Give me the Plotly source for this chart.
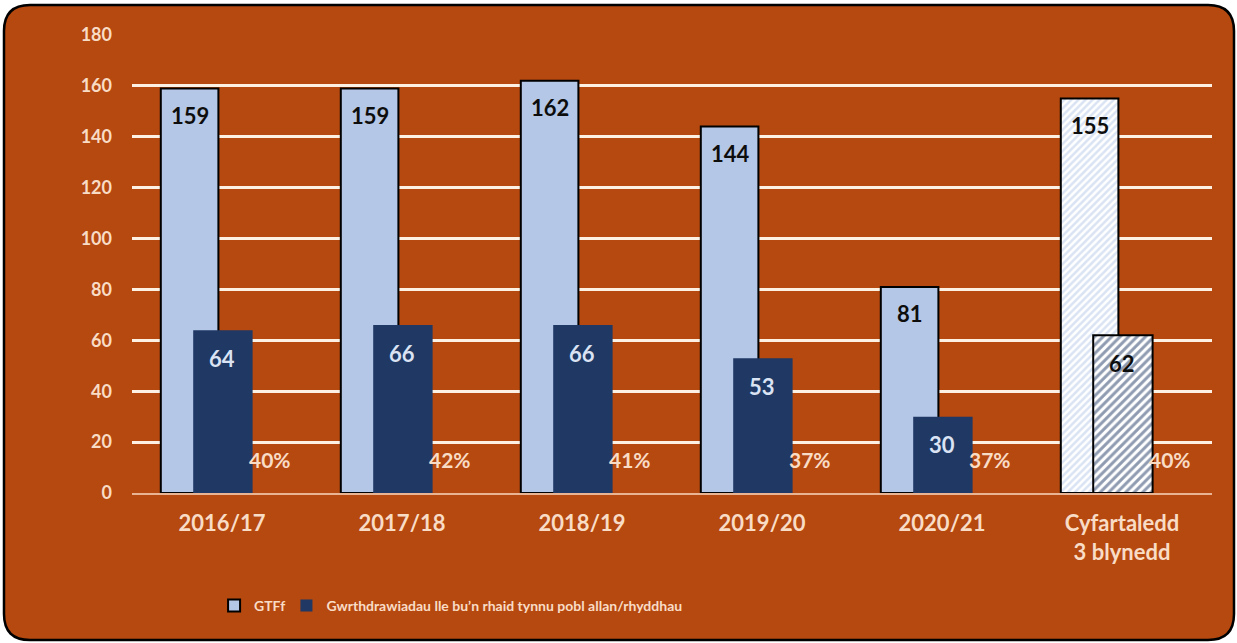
import plotly.graph_objects as go

# data
categories = ["2016/17", "2017/18", "2018/19", "2019/20", "2020/21", "Cyfartaledd<br>3 blynedd"]
gtff = [159, 159, 162, 144, 81, 155]
evictions = [64, 66, 66, 53, 30, 62]
pct_labels = ["40%", "42%", "41%", "37%", "37%", "40%"]
y_ticks = [0, 20, 40, 60, 80, 100, 120, 140, 160, 180]

W, H = 1237, 643
M = dict(l=132, r=25, t=35, b=150)
PLOT_W = W - M["l"] - M["r"]
PLOT_H = H - M["t"] - M["b"]

BG = "#B5490F"
LIGHT = "#B4C7E7"
NAVY = "#1F3864"
PEACH = "#F9DCC6"
GRID = "#FDF1E4"
FONT = "Lato"

is_avg = [c.startswith("Cyfartaledd") for c in categories]

fig = go.Figure()

fig.add_trace(go.Bar(
    x=categories, y=gtff, name="GTFf",
    width=0.32, offset=-0.34,
    marker=dict(
        color=LIGHT,
        line=dict(color="black", width=2),
        pattern=dict(shape=["/" if a else "" for a in is_avg],
                     fgcolor=LIGHT, bgcolor="white", size=5, solidity=0.5),
    ),
    legend="legend",
    hoverinfo="x+y",
))

fig.add_trace(go.Bar(
    x=categories, y=evictions,
    name="Gwrthdrawiadau lle bu\u2019n rhaid tynnu pobl allan/rhyddhau",
    width=0.33, offset=-0.16,
    marker=dict(
        color=NAVY,
        line=dict(color="black", width=[2 if a else 0 for a in is_avg]),
        pattern=dict(shape=["/" if a else "" for a in is_avg],
                     fgcolor=NAVY, bgcolor="white", size=6, solidity=0.5),
    ),
    legend="legend2",
    hoverinfo="x+y",
))

annotations = []
for cat, g, e, p, a in zip(categories, gtff, evictions, pct_labels, is_avg):
    annotations.append(dict(
        x=cat, y=g, xshift=-32, yshift=-27, yanchor="middle",
        text=str(g), showarrow=False,
        font=dict(family=FONT, size=22, weight="bold", color="#0D0D0D"),
    ))
    annotations.append(dict(
        x=cat, y=e, xshift=0, yshift=-28, yanchor="middle",
        text=str(e), showarrow=False,
        font=dict(family=FONT, size=22, weight="bold",
                  color="#0D0D0D" if a else "#DAE3F3"),
    ))
    annotations.append(dict(
        x=cat, y=0, xshift=48, yshift=34, yanchor="middle",
        text=p, showarrow=False,
        font=dict(family=FONT, size=21, weight="bold", color=PEACH),
    ))


# rounded frame, given in figure pixels and converted to paper coords
def to_paper(px, py):
    return (px - M["l"]) / PLOT_W, (H - M["b"] - py) / PLOT_H


x0, y0, x1, y1, r = 4, 5, 1234, 640, 26
pts = [
    ("M", (x0 + r, y0)), ("L", (x1 - r, y0)), ("Q", (x1, y0), (x1, y0 + r)),
    ("L", (x1, y1 - r)), ("Q", (x1, y1), (x1 - r, y1)),
    ("L", (x0 + r, y1)), ("Q", (x0, y1), (x0, y1 - r)),
    ("L", (x0, y0 + r)), ("Q", (x0, y0), (x0 + r, y0)),
]
path = ""
for cmd, *coords in pts:
    path += cmd + " ".join("%.5f,%.5f" % to_paper(*c) for c in coords) + " "
path += "Z"

legend_style = dict(
    orientation="h", xanchor="left", y=-0.2467, yanchor="middle",
    font=dict(family=FONT, size=14, weight="bold", color=PEACH),
    bgcolor="rgba(0,0,0,0)",
)

fig.update_layout(
    width=W, height=H,
    margin=M,
    paper_bgcolor="white",
    plot_bgcolor="rgba(0,0,0,0)",
    barmode="overlay",
    showlegend=True,
    font=dict(family=FONT, color=PEACH),
    shapes=[dict(type="path", path=path, xref="paper", yref="paper",
                 fillcolor=BG, line=dict(color="black", width=2.5), layer="below")],
    annotations=annotations,
    xaxis=dict(
        showgrid=False, zeroline=False,
        showline=True, linecolor="#E9B494", linewidth=1.5,
        tickfont=dict(family=FONT, size=22, weight="bold", color=PEACH),
        ticklabelstandoff=10,
        range=[-0.5, 5.5],
    ),
    yaxis=dict(
        range=[0, 180], tickvals=y_ticks,
        showgrid=True, gridcolor=GRID, gridwidth=2.5,
        zeroline=False, showline=False,
        tickfont=dict(family=FONT, size=18, weight="bold", color=PEACH),
        ticklabelstandoff=19,
    ),
    legend=dict(x=0.076, **legend_style),
    legend2=dict(x=0.143, **legend_style),
)

# drop the browser's default body margin so the figure sits at the page corner
fig.write_html(
    "out.html",
    config={"displayModeBar": False},
    post_script="document.body.style.margin='0';document.body.style.overflow='hidden';",
)
